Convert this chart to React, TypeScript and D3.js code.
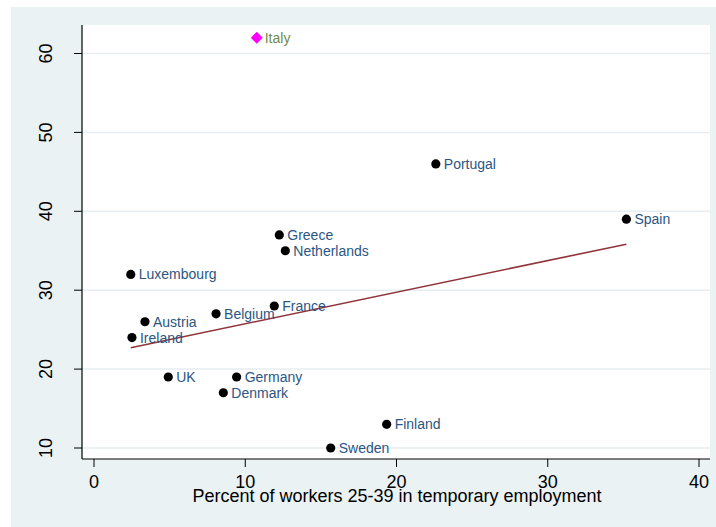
import React from "react";
import * as d3 from "d3";

// Temporary employment (x) vs. outcome share (y) by country
const countries = [
  "Portugal", "Spain", "Greece", "Netherlands", "Luxembourg", "France", "Belgium",
  "Austria", "Ireland", "UK", "Germany", "Denmark", "Finland", "Sweden",
];
const tempShare = [22.6, 35.2, 12.25, 12.65, 2.43, 11.92, 8.07, 3.37, 2.51, 4.91, 9.43, 8.55, 19.35, 15.65];
const outcome = [46, 39, 37, 35, 32, 28, 27, 26, 24, 19, 19, 17, 13, 10];

// Highlighted outlier, drawn separately and left out of the fit
const outlierName = "Italy";
const outlierX = 10.76;
const outlierY = 62;

const xTicks = [0, 10, 20, 30, 40];
const yTicks = [10, 20, 30, 40, 50, 60];
const xTitle = "Percent of workers 25-39 in temporary employment";

const W = 716;
const H = 527;
const plot = { left: 82, right: 710, top: 25, bottom: 459 };
const FONT = "'Liberation Sans', Arial, Helvetica, sans-serif";

export default function App() {
  const x = d3.scaleLinear().domain([0, 40]).range([94, 699]);
  const y = d3.scaleLinear().domain([10, 60]).range([448, 53.5]);

  // Ordinary least squares fit over the main group
  const mx = d3.mean(tempShare) as number;
  const my = d3.mean(outcome) as number;
  let sxy = 0;
  let sxx = 0;
  tempShare.forEach((v, i) => {
    sxy += (v - mx) * (outcome[i] - my);
    sxx += (v - mx) * (v - mx);
  });
  const slope = sxy / sxx;
  const intercept = my - slope * mx;
  const [xMin, xMax] = d3.extent(tempShare) as [number, number];
  const fitLine = d3
    .line<number>()
    .x((d) => x(d))
    .y((d) => y(intercept + slope * d))([xMin, xMax]);

  const diamond = d3.symbol().type(d3.symbolDiamond2).size(90)();

  return (
    <svg
      width={W}
      height={H}
      style={{ position: "absolute", left: 0, top: 0 }}
      fontFamily={FONT}
    >
      <rect x={11} y={7} width={W - 11} height={H - 7} fill="#eaf2f3" />
      <rect
        x={plot.left}
        y={plot.top}
        width={plot.right - plot.left}
        height={plot.bottom - plot.top}
        fill="#ffffff"
      />

      {/* horizontal grid */}
      {yTicks.map((t) => (
        <line
          key={"g" + t}
          x1={plot.left}
          x2={plot.right}
          y1={y(t)}
          y2={y(t)}
          stroke="#e6eef1"
          strokeWidth={1.5}
        />
      ))}

      {/* axes */}
      <line x1={plot.left} x2={plot.left} y1={plot.top} y2={plot.bottom} stroke="#000" strokeWidth={1.2} />
      <line x1={plot.left} x2={plot.right} y1={plot.bottom} y2={plot.bottom} stroke="#000" strokeWidth={1.2} />

      {yTicks.map((t) => (
        <g key={"y" + t}>
          <line x1={plot.left - 8} x2={plot.left} y1={y(t)} y2={y(t)} stroke="#000" strokeWidth={1} />
          <text
            transform={`translate(52,${y(t)}) rotate(-90)`}
            textAnchor="middle"
            fontSize={18}
            fill="#000"
          >
            {t}
          </text>
        </g>
      ))}

      {xTicks.map((t) => (
        <g key={"x" + t}>
          <line x1={x(t)} x2={x(t)} y1={plot.bottom} y2={plot.bottom + 8} stroke="#000" strokeWidth={1} />
          <text x={x(t)} y={488} textAnchor="middle" fontSize={18} fill="#000">
            {t}
          </text>
        </g>
      ))}

      <text x={(plot.left + plot.right) / 2 + 1} y={502} textAnchor="middle" fontSize={18} fill="#000">
        {xTitle}
      </text>

      {/* fitted line */}
      <path d={fitLine || ""} fill="none" stroke="#90353b" strokeWidth={1.6} />

      {/* country points */}
      {countries.map((c, i) => (
        <g key={c}>
          <circle cx={x(tempShare[i])} cy={y(outcome[i])} r={4.6} fill="#000" />
          <text
            x={x(tempShare[i]) + 8}
            y={y(outcome[i]) + 5}
            fontSize={14}
            fill="#2b5683"
          >
            {c}
          </text>
        </g>
      ))}

      {/* outlier */}
      <path d={diamond || ""} transform={`translate(${x(outlierX)},${y(outlierY)})`} fill="#ff00ff" />
      <text x={x(outlierX) + 8} y={y(outlierY) + 5} fontSize={14} fill="#6f8a4f">
        {outlierName}
      </text>
    </svg>
  );
}
